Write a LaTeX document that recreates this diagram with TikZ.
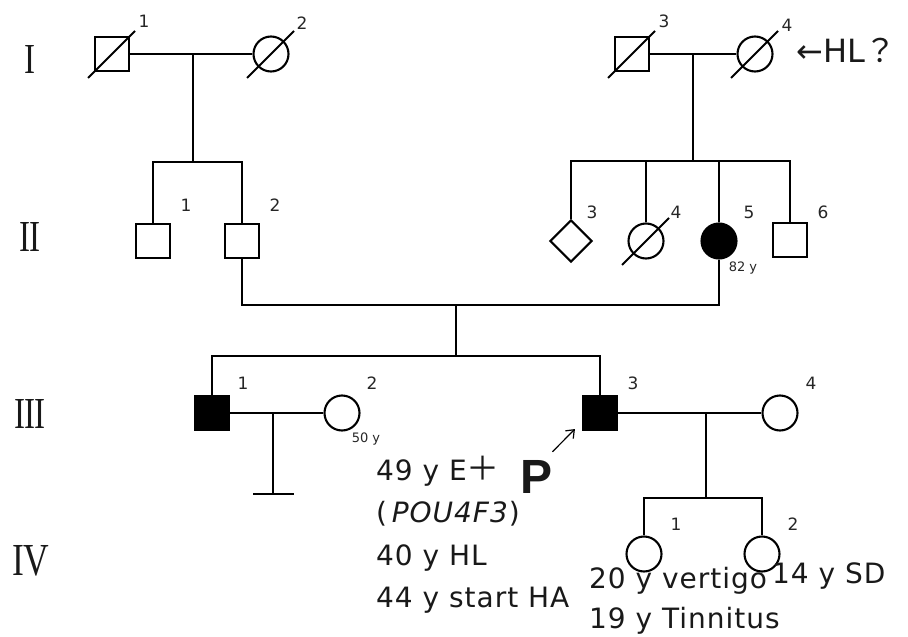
\documentclass[tikz,border=0pt]{standalone}
\usepackage{graphicx}
\usepackage{fontspec}
\setmainfont{DejaVu Sans}
\newfontfamily\jpf{Noto Sans CJK JP}
\newfontfamily\lbold{Liberation Sans}
\newfontfamily\rserif{Liberation Serif}
\newfontfamily\spaced{DejaVu Sans}[LetterSpace=3.5]
\usetikzlibrary{shapes.geometric,arrows.meta}
\tikzset{
  ln/.style={line width=2.1pt},
  male/.style={draw, ln, rectangle, minimum size=34pt, inner sep=0pt},
  female/.style={draw, ln, circle, minimum size=35pt, inner sep=0pt},
  unk/.style={draw, ln, diamond, minimum size=42pt, inner sep=0pt, shape aspect=1},
  aff/.style={fill=black},
  num/.style={font=\fontsize{17}{17}\selectfont, inner sep=0pt, text=black!85},
  age/.style={font=\fontsize{13}{13}\selectfont, inner sep=0pt, text=black!85},
  note/.style={font=\spaced\fontsize{28}{28}\selectfont, inner sep=0pt, anchor=base west, text=black!90},
  gen/.style={inner sep=0pt, font=\rserif, text=black!90}
}
\newcommand\decslash[1]{\draw[ln] ([shift={(-24,24)}]#1.center) -- ([shift={(23,-23)}]#1.center);}
\begin{document}
\begin{tikzpicture}[x=1pt,y=-1pt]
\path[use as bounding box] (0,0) rectangle (908,637);
% generation numerals
\node[gen] (g1) at (30,59) {\resizebox{11pt}{28pt}{I}};
\node[gen] (g2) at (30,237) {\resizebox{21pt}{29pt}{I\kern-0.03em I}};
\node[gen] (g3) at (30,414) {\resizebox{31pt}{29pt}{I\kern-0.03em I\kern-0.03em I}};
\node[gen] (g4) at (31,561) {\resizebox{36pt}{30pt}{I\kern-0.04em V}};
% generation I
\node[male] (I1) at (112,54) {};
\node[female] (I2) at (271,54) {};
\node[male] (I3) at (632,54) {};
\node[female] (I4) at (755,54) {};
\decslash{I1}\decslash{I2}\decslash{I3}\decslash{I4}
\node[num] (nI1) at (144,21) {1};
\node[num] (nI2) at (302,23) {2};
\node[num] (nI3) at (664,21) {3};
\node[num] (nI4) at (787,25) {4};
\node[anchor=base west, inner sep=0pt, font=\fontsize{32}{32}\selectfont, text=black!90] (hl) at (796,62) {←HL{\jpf ？}};
% generation II
\node[male] (II1) at (153,241) {};
\node[male] (II2) at (242,241) {};
\node[unk] (II3) at (571,241) {};
\node[female] (II4) at (646,241) {};
\node[female, aff] (II5) at (719,241) {};
\node[male] (II6) at (790,240) {};
\decslash{II4}
\node[num] (nII1) at (186,205) {1};
\node[num] (nII2) at (275,205) {2};
\node[num] (nII3) at (592,212) {3};
\node[num] (nII4) at (676,212) {4};
\node[num] (nII5) at (749,212) {5};
\node[num] (nII6) at (823,212) {6};
\node[age] (aII5) at (743,268) {82 y};
% generation III
\node[male, aff] (III1) at (212,413) {};
\node[female] (III2) at (342,413) {};
\node[male, aff] (III3) at (600,413) {};
\node[female] (III4) at (780,413) {};
\node[num] (nIII1) at (243,383) {1};
\node[num] (nIII2) at (372,383) {2};
\node[num] (nIII3) at (633,383) {3};
\node[num] (nIII4) at (811,383) {4};
\node[age] (aIII2) at (366,439) {50 y};
% generation IV
\node[female] (IV1) at (644,554) {};
\node[female] (IV2) at (762,554) {};
\node[num] (nIV1) at (676,524) {1};
\node[num] (nIV2) at (793,524) {2};
% coordinates
\coordinate (m1) at (193,54);
\coordinate (s1) at (193,162);
\coordinate (m2) at (693,54);
\coordinate (s2) at (693,161);
\coordinate (m3) at (456,305);
\coordinate (s3) at (456,356);
\coordinate (m4) at (273,413);
\coordinate (n4) at (273,494);
\coordinate (m5) at (706,413);
\coordinate (s5) at (706,498);
% connectors
\draw[ln] (I1) -- (I2);
\draw[ln] (m1) -- (s1);
\draw[ln] (II1.north) |- (s1) -| (II2.north);
\draw[ln] (I3) -- (I4);
\draw[ln] (m2) -- (s2);
\draw[ln] (II3.north) |- (s2) -| (II6.north);
\draw[ln] (II4.north) -- (II4.north |- s2);
\draw[ln] (II5.north) -- (II5.north |- s2);
\draw[ln] (II2.south) |- (m3) -| (II5.south);
\draw[ln] (m3) -- (s3);
\draw[ln] (III1.north) |- (s3) -| (III3.north);
\draw[ln] (III1) -- (III2);
\draw[ln] (m4) -- (n4);
\draw[ln] ([xshift=-20pt]n4) -- ([xshift=21pt]n4);
\draw[ln] (III3) -- (III4);
\draw[ln] (m5) -- (s5);
\draw[ln] (IV1.north) |- (s5) -| (IV2.north);
% proband notes
\node[note] (t1) at (376,480) {49 y E{\jpf\fontsize{33}{33}\selectfont ＋}};
\node[note] (t2) at (376,522) {(\,\textit{POU4F3})};
\node[note] (t3) at (376,565) {40 y HL};
\node[note] (t4) at (376,607) {44 y start HA};
\node[anchor=base west, inner sep=0pt, font=\lbold\bfseries\fontsize{48}{48}\selectfont, text=black!90] (P) at (520,493) {P};
\draw[line width=1.2pt, -{Straight Barb[length=7pt,width=11pt]}] ([shift={(0,-8)}]P.north east) -- ([shift={(-7,-2)}]III3.south west);
\node[note] (t5) at (589,588) {20 y vertigo};
\node[note] (t6) at (772,583) {14 y SD};
\node[note] (t7) at (589,628) {19 y Tinnitus};
\end{tikzpicture}
\end{document}
